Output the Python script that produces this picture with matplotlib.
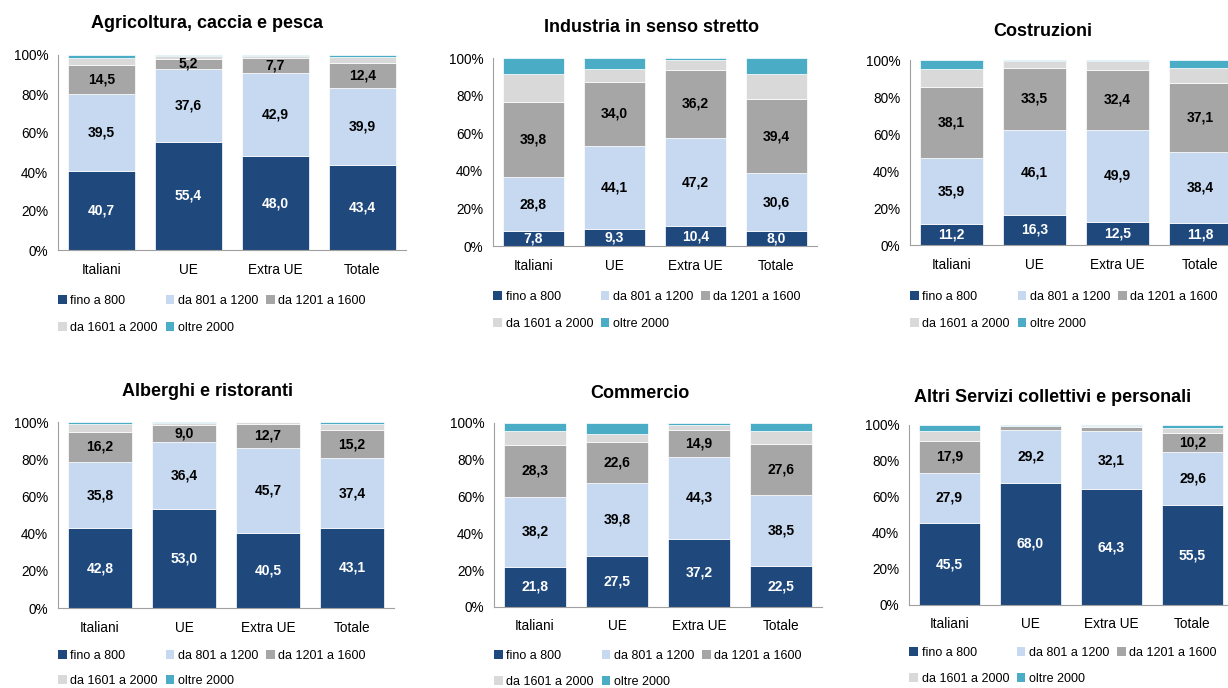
import matplotlib
matplotlib.use('Agg')
import matplotlib.pyplot as plt
from matplotlib.patches import Patch

categories = ['Italiani', 'UE', 'Extra UE', 'Totale']
series = ['fino a 800', 'da 801 a 1200', 'da 1201 a 1600', 'da 1601 a 2000', 'oltre 2000']
colors = ['#1F497D', '#C6D9F1', '#A6A6A6', '#D9D9D9', '#4BACC6']

titles = ['Agricoltura, caccia e pesca', 'Industria in senso stretto', 'Costruzioni',
          'Alberghi e ristoranti', 'Commercio', 'Altri Servizi collettivi e personali']

# per sector: rows = series, cols = categories
agricoltura = [[40.7, 55.4, 48.0, 43.4],
               [39.5, 37.6, 42.9, 39.9],
               [14.5, 5.2, 7.7, 12.4],
               [4.0, 1.2, 1.1, 3.1],
               [1.3, 0.6, 0.3, 1.2]]
industria = [[7.8, 9.3, 10.4, 8.0],
             [28.8, 44.1, 47.2, 30.6],
             [39.8, 34.0, 36.2, 39.4],
             [14.9, 6.6, 5.0, 13.7],
             [8.7, 6.0, 1.2, 8.3]]
costruzioni = [[11.2, 16.3, 12.5, 11.8],
               [35.9, 46.1, 49.9, 38.4],
               [38.1, 33.5, 32.4, 37.1],
               [9.8, 3.7, 4.9, 8.3],
               [5.0, 0.4, 0.3, 4.4]]
alberghi = [[42.8, 53.0, 40.5, 43.1],
            [35.8, 36.4, 45.7, 37.4],
            [16.2, 9.0, 12.7, 15.2],
            [4.1, 1.0, 0.9, 3.3],
            [1.1, 0.6, 0.2, 1.0]]
commercio = [[21.8, 27.5, 37.2, 22.5],
             [38.2, 39.8, 44.3, 38.5],
             [28.3, 22.6, 14.9, 27.6],
             [7.4, 4.0, 2.3, 7.1],
             [4.3, 6.1, 1.3, 4.3]]
altri = [[45.5, 68.0, 64.3, 55.5],
         [27.9, 29.2, 32.1, 29.6],
         [17.9, 2.2, 2.7, 10.2],
         [5.4, 0.2, 0.2, 3.0],
         [3.3, 0.4, 0.7, 1.7]]
data = [agricoltura, industria, costruzioni, alberghi, commercio, altri]

plt.rcParams['font.family'] = ['Liberation Sans', 'DejaVu Sans']

W, H = 1228, 688
fig = plt.figure(figsize=(W / 100, H / 100), dpi=100)

# axes boxes in pixels: x_left, x_right, y_top(100%), y_bottom(0%)
boxes = [(58, 406, 55, 250), (493, 817, 58, 246), (910, 1242, 60, 245),
         (58, 394, 422, 608), (494, 822, 423, 607), (909, 1233, 425, 605)]
title_x = [207, 652, 1043, 207, 640, 1053]
title_y = [23, 27, 31, 391, 394, 397]
legend_y = [300, 296, 296, 655, 655, 652]
legend_sp = [1.2, 1.2, 1.2, 1.0, 1.1, 1.1]

handles = [Patch(facecolor=c, edgecolor='none') for c in colors]
order = [0, 3, 1, 4, 2]

for k, (vals, box) in enumerate(zip(data, boxes)):
    x0, x1, yt, yb = box
    ax = fig.add_axes([x0 / W, 1 - yb / H, (x1 - x0) / W, (yb - yt) / H])
    bottom = [0] * 4
    for s in range(5):
        ax.bar(range(4), vals[s], bottom=bottom, width=0.76, color=colors[s], edgecolor='white', linewidth=0.5)
        for i in range(4):
            v = vals[s][i]
            if s < 3 and v >= 5:
                ax.text(i, bottom[i] + v / 2, f'{v:.1f}'.replace('.', ','), ha='center', va='center',
                        fontsize=10, fontweight='bold', color='white' if s == 0 else 'black')
        bottom = [b + v for b, v in zip(bottom, vals[s])]
    ax.set_xlim(-0.5, 3.5)
    ax.set_ylim(0, 100)
    ax.set_yticks([0, 20, 40, 60, 80, 100])
    ax.set_yticklabels([f'{t}%' for t in range(0, 101, 20)])
    ax.set_xticks(range(4))
    ax.set_xticklabels(categories)
    ax.tick_params(length=0, labelsize=9.8, pad=7)
    ax.tick_params(axis='x', pad=9)
    for sp in ['top', 'right']:
        ax.spines[sp].set_visible(False)
    for sp in ['left', 'bottom']:
        ax.spines[sp].set_color('#A0A0A0')
    fig.text(title_x[k] / W, 1 - title_y[k] / H, titles[k],
             ha='center', va='center', fontsize=13, fontweight='bold')
    fig.legend([handles[j] for j in order], [series[j] for j in order], ncol=3,
               loc='upper left', bbox_to_anchor=(x0 / W, 1 - (legend_y[k] - 5) / H),
               frameon=False, fontsize=9.0, handlelength=0.7, handleheight=0.7, handletextpad=0.3,
               columnspacing=0.6, labelspacing=legend_sp[k], borderpad=0, borderaxespad=0)

fig.savefig('out.png', dpi=100)
